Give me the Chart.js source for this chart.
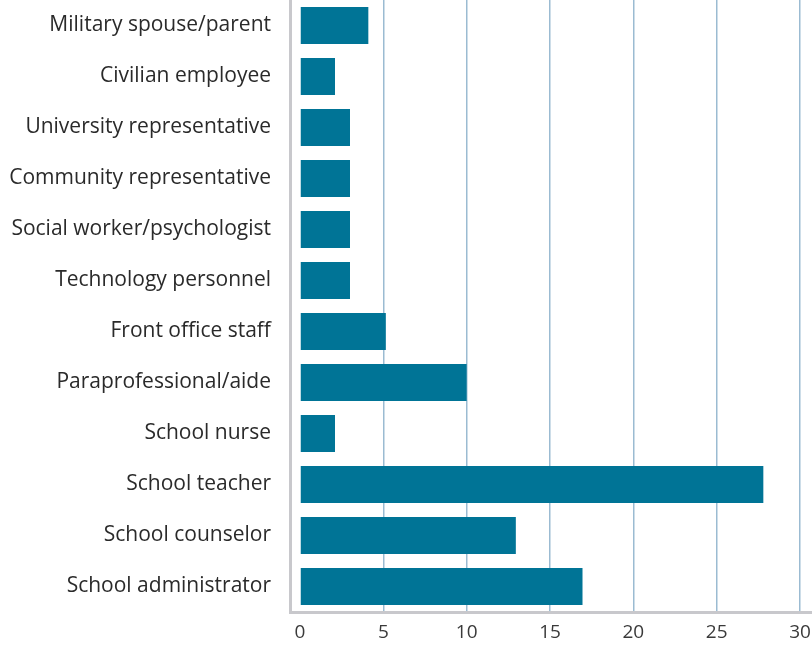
<!DOCTYPE html>
<html>
<head>
<meta charset="utf-8">
<script src="https://cdn.jsdelivr.net/npm/chart.js@4.4.0/dist/chart.umd.min.js"></script>
<style>
  html, body { margin: 0; padding: 0; background: #fff; overflow: hidden; }
  #wrap { width: 812px; height: 655px; }
</style>
</head>
<body>
<div id="wrap"><canvas id="roles"></canvas></div>
<script>
// categories, top to bottom
var roles = [
	"Military spouse/parent",
	"Civilian employee",
	"University representative",
	"Community representative",
	"Social worker/psychologist",
	"Technology personnel",
	"Front office staff",
	"Paraprofessional/aide",
	"School nurse",
	"School teacher",
	"School counselor",
	"School administrator"
];

var counts = [4.1, 2.1, 3.0, 3.0, 3.0, 3.0, 5.15, 10.0, 2.1, 27.8, 12.95, 16.95];

var xTicks = [0, 5, 10, 15, 20, 25, 30];

var barColor = '#007496';
var gridColor = '#9bbbd2';
var axisGray = '#c8c8cc';
var labelFont = "'Open Sans', Lato, sans-serif";

var ctx = document.getElementById('roles');

var chart = new Chart(ctx, {
	type: 'bar',
	data: {
		labels: roles,
		datasets: [{
			data: counts,
			backgroundColor: barColor,
			borderWidth: 0,
			barPercentage: 0.73,
			categoryPercentage: 1.0
		}]
	},
	options: {
		indexAxis: 'y',
		responsive: true,
		maintainAspectRatio: false,
		animation: false,
		layout: { padding: 0 },
		plugins: {
			legend: { display: false },
			tooltip: { enabled: false }
		},
		scales: {
			x: {
				min: -0.6,
				max: 30.72,
				z: 1,
				afterBuildTicks: function(axis) {
					axis.ticks = xTicks.map(function(v) { return { value: v }; });
				},
				afterFit: function(axis) {
					axis.height = 43;
					axis.paddingLeft = 0;
					axis.paddingRight = 0;
				},
				grid: {
					color: function(c) { return c.tick && c.tick.value === 0 ? 'rgba(0,0,0,0)' : gridColor; },
					lineWidth: 1.5,
					drawTicks: false
				},
				border: { color: axisGray, width: 3 },
				ticks: {
					padding: 9,
					color: '#3a3a3a',
					font: { family: labelFont, size: 19 },
					maxRotation: 0
				}
			},
			y: {
				afterFit: function(axis) {
					axis.width = 290;
					axis.paddingTop = 0;
					axis.paddingBottom = 0;
				},
				grid: { display: false, drawTicks: false },
				border: { color: axisGray, width: 3 },
				ticks: {
					padding: 19,
					color: '#2a2a2a',
					font: { family: labelFont, size: 21 }
				}
			}
		}
	}
});
</script>
</body>
</html>
